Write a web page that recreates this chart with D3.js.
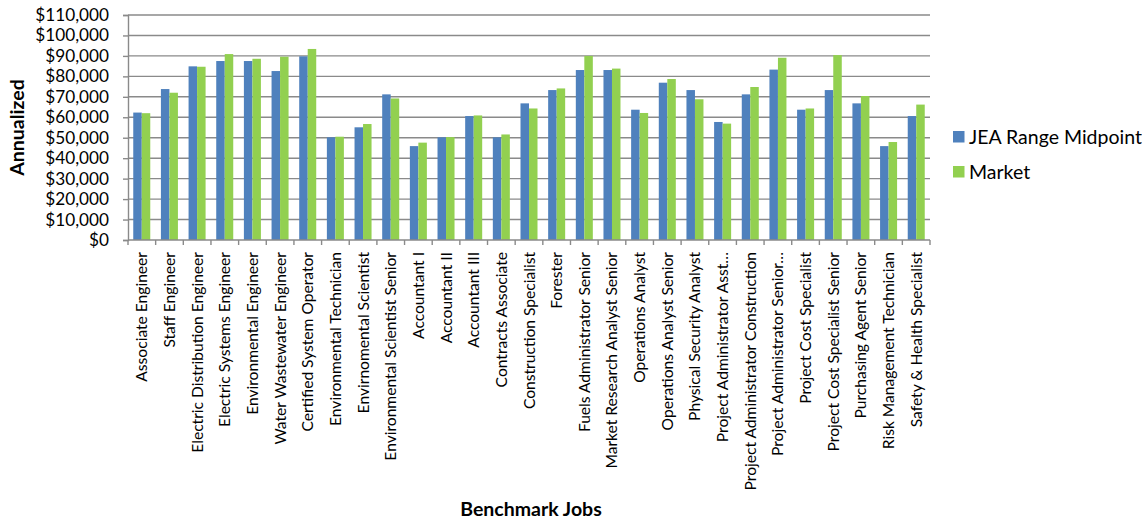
<!DOCTYPE html>
<html>
<head>
<meta charset="utf-8">
<script src="https://cdn.jsdelivr.net/npm/d3@7/dist/d3.min.js"></script>
<style>
  html, body { margin: 0; padding: 0; background: #fff; }
  svg text { font-family: Lato, "Open Sans", sans-serif; fill: #000; }
</style>
</head>
<body>
<svg id="chart" width="1142" height="523"></svg>
<script>
// Benchmark job titles (x axis categories)
const jobs = [
  "Associate Engineer", "Staff Engineer", "Electric Distribution Engineer",
  "Electric Systems Engineer", "Environmental Engineer", "Water Wastewater Engineer",
  "Certified System Operator", "Environmental Technician", "Envirnomental Scientist",
  "Environmental Scientist Senior", "Accountant I", "Accountant II", "Accountant III",
  "Contracts Associate", "Construction Specialist", "Forester",
  "Fuels Administrator Senior", "Market Research Analyst Senior", "Operations Analyst",
  "Operations Analyst Senior", "Physical Security Analyst", "Project Administrator Asst…",
  "Project Administrator Construction", "Project Administrator Senior…",
  "Project  Cost Specialist", "Project Cost Specialist Senior", "Purchasing Agent Senior",
  "Risk Management Technician", "Safety & Health Specialist"
];

// Annualized pay, JEA range midpoint
const jeaMidpoint = [
  62300, 73800, 84900, 87500, 87500, 82600, 89800, 50200, 55100,
  71200, 45900, 50200, 60600, 50200, 66800, 73300, 83100, 83100,
  63700, 76900, 73300, 57700, 71200, 83300, 63700, 73300, 66800,
  45900, 60600
];

// Annualized pay, market
const market = [
  62000, 72000, 84700, 90900, 88600, 89600, 93400, 50500, 56700,
  69200, 47600, 50300, 60900, 51600, 64300, 74100, 90000, 83800,
  62100, 78700, 68800, 56900, 74800, 89100, 64300, 90400, 70400,
  47900, 66200
];

const seriesNames = ["JEA Range Midpoint", "Market"];
const seriesColors = ["#4F81BD", "#92D050"];
const yTicks = [0, 10000, 20000, 30000, 40000, 50000, 60000, 70000, 80000, 90000, 100000, 110000];

const svg = d3.select("#chart");
const margin = { left: 128, right: 212, top: 15, bottom: 283 };
const W = 1142, H = 523;
const x0 = margin.left, x1 = W - margin.right;
const y0 = H - margin.bottom, y1 = margin.top;

const x = d3.scaleBand().domain(jobs).range([x0, x1]).paddingInner(0.385).paddingOuter(0.19);
const xs = d3.scaleBand().domain(seriesNames).range([0, x.bandwidth()]);
const y = d3.scaleLinear().domain([0, 110000]).range([y0, y1]);

// horizontal gridlines
svg.append("g")
  .selectAll("line")
  .data(yTicks.filter(d => d > 0))
  .join("line")
  .attr("x1", x0).attr("x2", x1)
  .attr("y1", d => y(d)).attr("y2", d => y(d))
  .attr("stroke", "#8a8a8a").attr("stroke-width", 1.4);

// y axis
const fmt = d3.format("$,");
const yAxis = svg.append("g")
  .attr("transform", `translate(${x0},0)`)
  .call(d3.axisLeft(y).tickValues(yTicks).tickFormat(fmt).tickSize(5).tickPadding(14));
yAxis.select(".domain").attr("stroke", "#8a8a8a").attr("stroke-width", 1.4);
yAxis.selectAll(".tick line").attr("stroke", "#8a8a8a").attr("stroke-width", 1.4);
yAxis.selectAll("text").attr("font-size", "17.2px").attr("font-family", "Lato, sans-serif");

// bars
const rows = jobs.map((j, i) => ({ job: j, values: [jeaMidpoint[i], market[i]] }));
const groups = svg.append("g").selectAll("g")
  .data(rows)
  .join("g")
  .attr("transform", d => `translate(${x(d.job)},0)`);

groups.selectAll("rect")
  .data(d => d.values.map((v, k) => ({ name: seriesNames[k], value: v, k })))
  .join("rect")
  .attr("x", d => xs(d.name))
  .attr("width", xs.bandwidth())
  .attr("y", d => y(d.value))
  .attr("height", d => y0 - y(d.value))
  .attr("fill", d => seriesColors[d.k]);

// x axis with ticks between categories
const xAxisG = svg.append("g");
xAxisG.append("line")
  .attr("x1", x0).attr("x2", x1).attr("y1", y0).attr("y2", y0)
  .attr("stroke", "#8a8a8a").attr("stroke-width", 1.4);
xAxisG.selectAll("line.tk")
  .data(d3.range(jobs.length + 1))
  .join("line")
  .attr("class", "tk")
  .attr("x1", i => x0 + i * (x1 - x0) / jobs.length)
  .attr("x2", i => x0 + i * (x1 - x0) / jobs.length)
  .attr("y1", y0).attr("y2", y0 + 5)
  .attr("stroke", "#8a8a8a").attr("stroke-width", 1.4);

xAxisG.selectAll("text")
  .data(jobs)
  .join("text")
  .attr("transform", d => `translate(${x(d) + x.bandwidth() / 2 + 5.5},${y0 + 12}) rotate(-90)`)
  .attr("text-anchor", "end")
  .attr("font-size", "15.6px")
  .text(d => d);

// axis titles
svg.append("text")
  .attr("transform", `translate(24,${(y0 + y1) / 2}) rotate(-90)`)
  .attr("text-anchor", "middle")
  .attr("font-size", "19.5px").attr("font-weight", "bold")
  .text("Annualized");

svg.append("text")
  .attr("x", 531).attr("y", 516)
  .attr("text-anchor", "middle")
  .attr("font-size", "19.5px").attr("font-weight", "bold")
  .text("Benchmark Jobs");

// legend
const legend = svg.append("g").attr("transform", "translate(953,131)");
const li = legend.selectAll("g")
  .data(seriesNames)
  .join("g")
  .attr("transform", (d, i) => `translate(0,${i * 35})`);
li.append("rect").attr("width", 11.5).attr("height", 11.5)
  .attr("fill", (d, i) => seriesColors[i]);
li.append("text").attr("x", 16).attr("y", 12.5)
  .attr("font-size", "19.5px")
  .text(d => d);
</script>
</body>
</html>
